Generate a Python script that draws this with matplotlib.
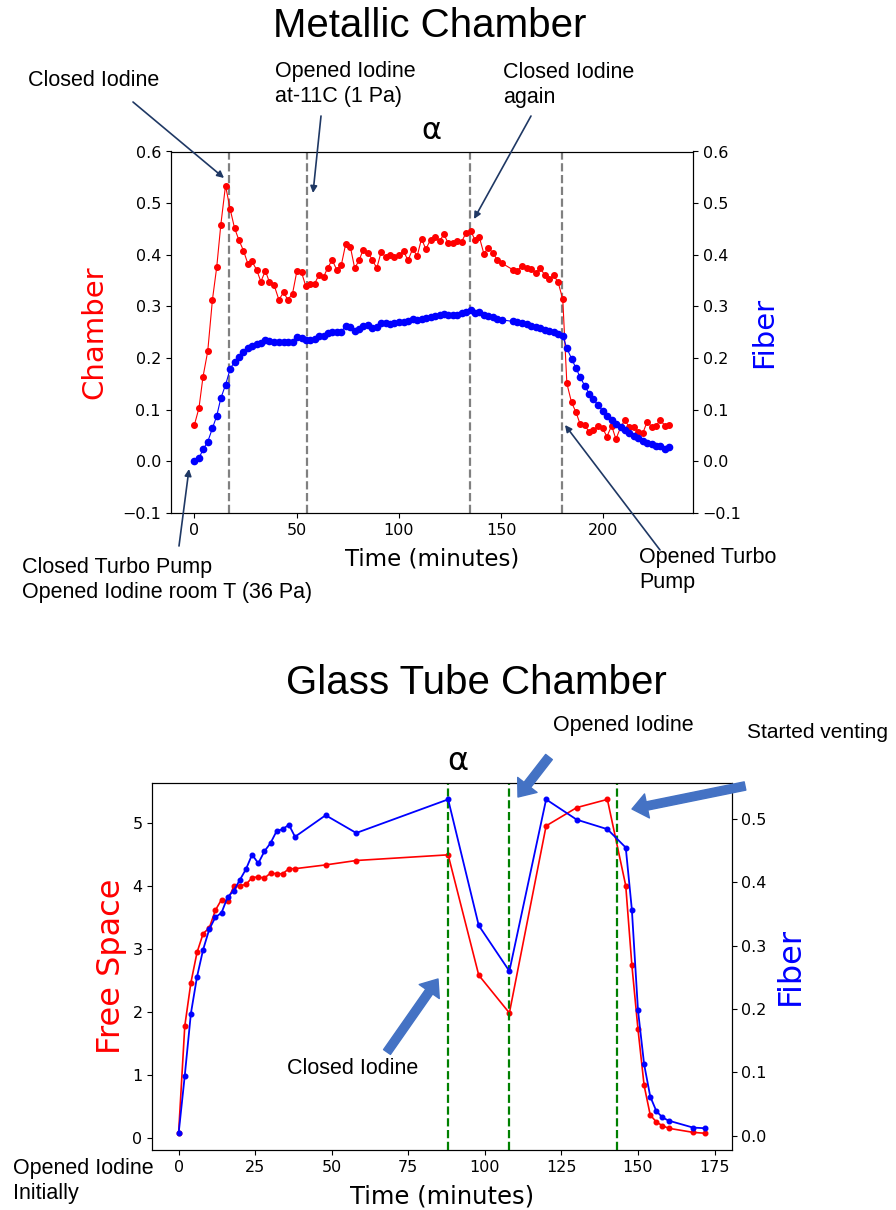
import matplotlib
matplotlib.use("Agg")
import matplotlib.pyplot as plt

# ---------------- Metallic chamber data ----------------
t_metal = [0, 2.2, 4.2, 6.5, 8.8, 10.9, 12.9, 15.2, 17.5, 19.6, 21.7, 24.0, 26.1, 28.2,
           30.4, 32.5, 34.7, 36.7, 39.0, 41.3, 43.6, 45.7, 48.0, 50.1, 52.4, 54.4, 56.7,
           58.8, 60.9, 63.2, 65.1, 67.4, 69.6, 71.9, 74.0, 76.3, 78.4, 80.5, 82.6, 84.9,
           87.1, 89.2, 91.3, 93.6, 95.7, 97.8, 100.1, 102.3, 104.5, 106.7, 109.0, 111.1,
           113.2, 115.5, 117.6, 119.9, 122.0, 124.2, 126.4, 128.6, 130.7, 132.8, 135.1,
           137.2, 139.4, 141.6, 143.8, 145.9, 148.2, 150.3, 155.8, 158.0, 160.3, 162.5,
           164.6, 167.0, 169.1, 171.4, 173.5, 175.8, 177.9, 180.2, 182.2, 184.5, 186.6,
           188.7, 191.0, 193.1, 195.2, 197.5, 199.7, 201.8, 204.1, 206.2, 208.5, 210.6,
           212.7, 215.0, 217.1, 219.3, 221.5, 223.7, 225.8, 227.9, 230.2, 232.3]
chamber = [0.071, 0.103, 0.164, 0.213, 0.313, 0.376, 0.458, 0.534, 0.488, 0.452, 0.429,
           0.408, 0.383, 0.387, 0.371, 0.348, 0.369, 0.347, 0.341, 0.313, 0.327, 0.313,
           0.325, 0.368, 0.366, 0.340, 0.344, 0.344, 0.361, 0.357, 0.374, 0.390, 0.371,
           0.381, 0.421, 0.415, 0.374, 0.389, 0.410, 0.404, 0.390, 0.374, 0.405, 0.396,
           0.400, 0.396, 0.400, 0.407, 0.389, 0.411, 0.398, 0.431, 0.411, 0.429, 0.435,
           0.426, 0.440, 0.422, 0.423, 0.427, 0.425, 0.442, 0.447, 0.429, 0.434, 0.402,
           0.414, 0.404, 0.390, 0.384, 0.371, 0.369, 0.379, 0.374, 0.373, 0.365, 0.374,
           0.361, 0.353, 0.360, 0.347, 0.314, 0.151, 0.114, 0.096, 0.072, 0.071, 0.056,
           0.060, 0.069, 0.064, 0.048, 0.069, 0.043, 0.066, 0.080, 0.066, 0.066, 0.056,
           0.054, 0.077, 0.067, 0.069, 0.080, 0.069, 0.071]
fiber_metal = [0.001, 0.006, 0.023, 0.038, 0.064, 0.088, 0.122, 0.148, 0.179, 0.193,
               0.203, 0.212, 0.219, 0.224, 0.227, 0.229, 0.235, 0.233, 0.232, 0.232,
               0.232, 0.232, 0.232, 0.241, 0.238, 0.235, 0.235, 0.237, 0.243, 0.242,
               0.248, 0.251, 0.250, 0.251, 0.263, 0.260, 0.253, 0.257, 0.263, 0.264,
               0.258, 0.261, 0.268, 0.268, 0.266, 0.268, 0.270, 0.270, 0.271, 0.276,
               0.274, 0.276, 0.277, 0.279, 0.282, 0.283, 0.286, 0.284, 0.283, 0.284,
               0.287, 0.289, 0.294, 0.287, 0.289, 0.283, 0.281, 0.279, 0.276, 0.274,
               0.271, 0.270, 0.268, 0.266, 0.263, 0.260, 0.258, 0.255, 0.253, 0.250,
               0.246, 0.243, 0.219, 0.199, 0.181, 0.163, 0.146, 0.131, 0.120, 0.109,
               0.098, 0.088, 0.080, 0.073, 0.066, 0.060, 0.054, 0.049, 0.045, 0.040,
               0.036, 0.033, 0.030, 0.030, 0.024, 0.027]
metal_events = [17, 55, 135, 180]

# ---------------- Glass tube data ----------------
t_glass = [0, 2, 4, 6, 8, 10, 12, 14, 16, 18, 20, 22, 24, 26, 28, 30, 32, 34, 36, 38,
           48, 58, 88, 98, 108, 120, 130, 140, 146, 148, 150, 152, 154, 156, 158, 160,
           168, 172]
free_space = [0.08, 1.77, 2.46, 2.94, 3.24, 3.33, 3.61, 3.78, 3.76, 3.99, 4.00, 4.02,
              4.13, 4.14, 4.12, 4.20, 4.19, 4.19, 4.27, 4.27, 4.33, 4.40, 4.49, 2.58,
              1.98, 4.95, 5.24, 5.37, 4.00, 2.74, 1.72, 0.83, 0.36, 0.25, 0.19, 0.15,
              0.085, 0.07]
fiber_glass = [0.004, 0.095, 0.193, 0.251, 0.294, 0.326, 0.345, 0.352, 0.377, 0.387,
               0.404, 0.421, 0.444, 0.430, 0.449, 0.462, 0.481, 0.484, 0.491, 0.472,
               0.506, 0.478, 0.531, 0.332, 0.260, 0.531, 0.499, 0.484, 0.455, 0.357,
               0.198, 0.113, 0.062, 0.039, 0.029, 0.024, 0.013, 0.012]
glass_events = [88, 108, 143]

W, H = 896, 1210
fig = plt.figure(figsize=(W / 100, H / 100), dpi=100)

ANN = ["Liberation Sans", "DejaVu Sans"]
NAVY = "#1f3864"
PPT_BLUE = "#4472c4"


def px_box(left, top, right, bottom):
    return [left / W, 1 - bottom / H, (right - left) / W, (bottom - top) / H]


def fig_xy(x, y):
    return (x / W, 1 - y / H)


# ======== Metallic chamber ========
ax1 = fig.add_axes(px_box(170.7, 151.5, 693, 513))
ax1.plot(t_metal, chamber, color="red", lw=0.8, marker="o", ms=4, zorder=3)
ax1.set_ylim(-0.1, 0.6)
for ev in metal_events:
    ax1.axvline(ev, color="gray", ls="--", lw=1.6, zorder=2)
ax1.set_ylabel("Chamber", color="red", fontsize=21, labelpad=10)
ax1.set_xlabel("Time (minutes)", fontsize=16.5, labelpad=7)
ax1.set_xticks([0, 50, 100, 150, 200])
ax1.tick_params(labelsize=11.5)
ax1b = ax1.twinx()
ax1b.plot(t_metal, fiber_metal, color="blue", lw=0.8, marker="o", ms=4.5, zorder=3)
ax1b.set_ylim(-0.1, 0.6)
ax1b.set_ylabel("Fiber", color="blue", fontsize=21, labelpad=6)
ax1b.tick_params(labelsize=11.5)
ax1.set_title("α", fontsize=22, pad=9)

# ======== Glass tube chamber ========
ax2 = fig.add_axes(px_box(152.3, 782.7, 731.7, 1150))
ax2.plot(t_glass, free_space, color="red", lw=1.2, marker="o", ms=3.3, zorder=3)
for ev in glass_events:
    ax2.axvline(ev, color="green", ls="--", lw=1.6, zorder=4)
ax2.set_ylabel("Free Space", color="red", fontsize=23)
ax2.set_xlabel("Time (minutes)", fontsize=17.5, labelpad=7)
ax2.set_xticks([0, 25, 50, 75, 100, 125, 150, 175])
ax2.tick_params(labelsize=11.5)
ax2b = ax2.twinx()
ax2b.plot(t_glass, fiber_glass, color="blue", lw=1.3, marker="o", ms=3.3, zorder=3)
ax2b.set_ylabel("Fiber", color="blue", fontsize=23, labelpad=6)
ax2b.tick_params(labelsize=11.5)
ax2.text(0.528, 1.015, "α", transform=ax2.transAxes, ha="center", va="bottom",
         fontsize=23)

# ======== Titles ========
fig.text(*fig_xy(430, 26), "Metallic Chamber", ha="center", va="center",
         fontsize=29, family=["Liberation Sans", "DejaVu Sans"])
fig.text(*fig_xy(476, 683), "Glass Tube Chamber", ha="center", va="center",
         fontsize=29, family=["Liberation Sans", "DejaVu Sans"])

# ======== Notes with thin arrows ========
thin = dict(arrowstyle="-|>", color=NAVY, lw=1.2, mutation_scale=10,
            shrinkA=0, shrinkB=0)


def note(text, xy_text, ha="left", va="center", size=15.5):
    fig.text(*fig_xy(*xy_text), text, ha=ha, va=va, fontsize=size, family=ANN,
             linespacing=1.3)


def arrow(start, end, props):
    fig.patches.append(matplotlib.patches.FancyArrowPatch(
        fig_xy(*start), fig_xy(*end), transform=fig.transFigure, **props))


note("Closed Iodine", (28, 81))
arrow((133, 102), (224, 178), thin)
note("Opened Iodine\nat-11C (1 Pa)", (275, 84))
arrow((321, 116), (313, 193), thin)
note("Closed Iodine\nagain", (503, 85))
arrow((531, 116), (474, 219), thin)
note("Closed Turbo Pump\nOpened Iodine room T (36 Pa)", (22, 580))
arrow((179, 546), (189, 469), thin)
note("Opened Turbo\nPump", (639, 570))
arrow((660, 550), (565, 425), thin)

# ======== Notes with block arrows ========
block = dict(arrowstyle="simple,head_length=1.0,head_width=1.6,tail_width=0.55",
             color=PPT_BLUE, mutation_scale=11, shrinkA=0, shrinkB=0)

note("Opened Iodine", (553, 726))
arrow((549, 757), (518, 797), block)
note("Started venting", (747, 732), size=15)
arrow((745, 786), (632, 809), block)
note("Closed Iodine", (287, 1068))
arrow((387, 1052), (438, 979), block)
note("Opened Iodine\nInitially", (13, 1181))

fig.savefig("out.png", dpi=100)
